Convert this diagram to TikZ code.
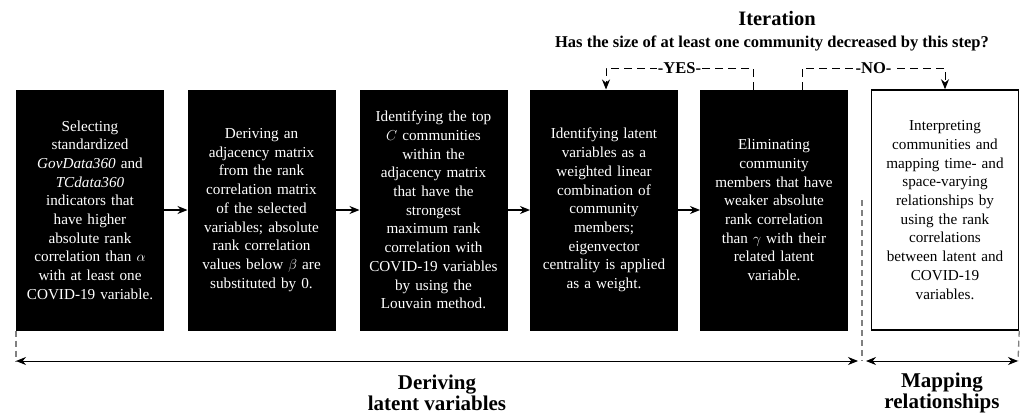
\documentclass[tikz,border=0pt]{standalone}
\usepackage{fontspec}
\setmainfont{Liberation Serif}
\usetikzlibrary{arrows.meta}

\begin{document}
\begin{tikzpicture}[x=1pt,y=-1pt,
  stepbox/.style={rectangle,draw=black,fill=black,text=white,line width=1pt,
    minimum width=147pt,minimum height=240pt,text width=146pt,align=center,
    inner sep=0pt,font=\fontsize{15.2}{18.7}\selectfont},
  lastbox/.style={stepbox,fill=white,text=black,line width=1.5pt},
  flow/.style={-{Stealth[length=10pt,width=8pt]},line width=1.2pt},
  loop/.style={dash pattern=on 8pt off 5pt,line width=1pt},
  border/.style={gray,dash pattern=on 6pt off 4pt,line width=1.3pt},
  span/.style={{Stealth[length=10pt,width=8pt]}-{Stealth[length=10pt,width=8pt]},line width=1pt},
  phase/.style={align=center,font=\fontsize{21}{21}\selectfont\bfseries}]
\useasboundingbox (0,0) rectangle (1029,415);
\path node (s1) at (90,210) [stepbox] {Selecting\\ standardized\\ \textit{GovData360} and\\ \textit{TCdata360}\\ indicators that\\ have higher\\ absolute rank\\ correlation than $\alpha$\\ with at least one\\ COVID-19 variable.}
node (s2) at (261.5,210) [stepbox] {Deriving an\\ adjacency matrix\\ from the rank\\ correlation matrix\\ of the selected\\ variables; absolute\\ rank correlation\\ values below $\beta$ are\\ substituted by 0.}
node (s3) at (433.5,210) [stepbox] {Identifying the top\\ $C$ communities\\ within the\\ adjacency matrix\\ that have the\\ strongest\\ maximum rank\\ correlation with\\ COVID-19 variables\\ by using the\\ Louvain method.}
node (s4) at (604,210) [stepbox] {Identifying latent\\ variables as a\\ weighted linear\\ combination of\\ community\\ members;\\ eigenvector\\ centrality is applied\\ as a weight.}
node (s5) at (774,210) [stepbox] {Eliminating\\ community\\ members that have\\ weaker absolute\\ rank correlation\\ than $\gamma$ with their\\ related latent\\ variable.}
node (s6) at (945,210) [lastbox] {Interpreting\\ communities and\\ mapping time- and\\ space-varying\\ relationships by\\ using the rank\\ correlations\\ between latent and\\ COVID-19\\ variables.};
\draw[flow] (s1) -- (s2);
\draw[flow] (s2) -- (s3);
\draw[flow] (s3) -- (s4);
\draw[flow] (s4) -- (s5);
% iteration loop
\node (iter) at (777,18) [font=\fontsize{20.5}{22}\selectfont\bfseries] {Iteration};
\node (quest) at (772,43) [font=\fontsize{16.5}{18}\selectfont\bfseries] {Has the size of at least one community decreased by this step?};
\coordinate (y1) at (753,90);
\coordinate (n1) at (802,90);
\draw[loop,-{Stealth[length=10pt,width=8pt]}] (y1) |- (606,68) node (yes) [pos=0.75,fill=white,inner sep=1pt,font=\fontsize{16.5}{18}\selectfont\bfseries] {-YES-} -- (s4.north -| 606,0);
\draw[loop,-{Stealth[length=10pt,width=8pt]}] (n1) |- (945,68) node (no) [pos=0.75,fill=white,inner sep=1pt,font=\fontsize{16.5}{18}\selectfont\bfseries] {-NO-} -- (s6.north);
% phases
\coordinate (a0) at (16,361);
\coordinate (a1) at (858,361);
\coordinate (a2) at (866,361);
\coordinate (a3) at (1018,361);
\draw[border] (s1.south west) -- (a0);
\draw[border] (862,200) -- (862,361);
\draw[border] (s6.south east) -- (a3);
\draw[span] (a0) -- (a1);
\draw[span] (a2) -- (a3);
\node (derive) at (437,393) [phase] {Deriving\\ latent variables};
\node (mapping) at (942,393) [phase] {Mapping\\ relationships};
\end{tikzpicture}
\end{document}
